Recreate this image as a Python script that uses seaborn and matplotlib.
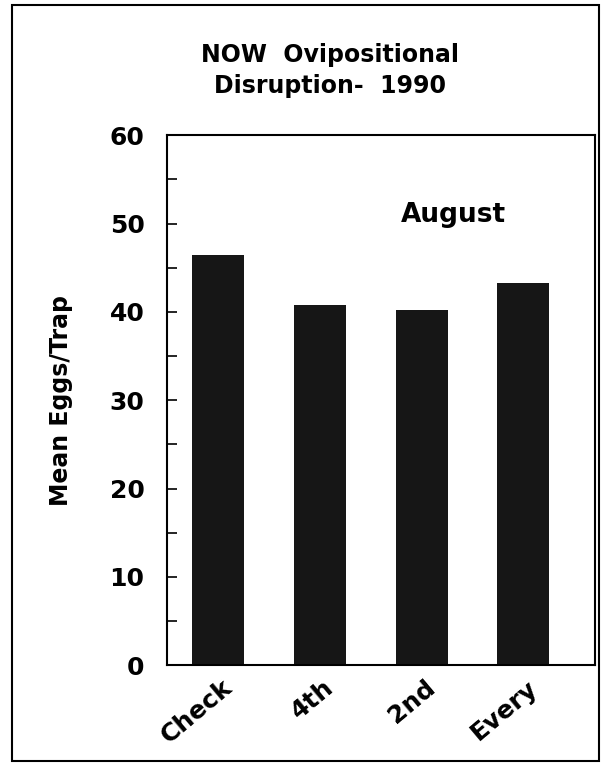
import numpy as np
import pandas as pd
import matplotlib
matplotlib.use("Agg")
import matplotlib.pyplot as plt
import matplotlib.transforms as mtransforms
import seaborn as sns
from matplotlib.patches import Rectangle
from matplotlib.ticker import MultipleLocator

treatments = ["Check", "4th", "2nd", "Every"]
mean_eggs = [46.4, 40.8, 40.2, 43.3]

df = pd.DataFrame({"treatment": treatments, "eggs": mean_eggs})

sns.set_style("ticks")
plt.rcParams["font.family"] = ["DejaVu Sans"]
plt.rcParams["font.weight"] = "bold"
for k in ["text.color", "axes.labelcolor", "xtick.color", "ytick.color", "axes.edgecolor"]:
    plt.rcParams[k] = "black"

fig = plt.figure(figsize=(6.02, 7.69), dpi=100)
ax = fig.add_axes([0.277, 0.135, 0.711, 0.689])

sns.barplot(data=df, x="treatment", y="eggs", color="#161616", width=0.51,
            saturation=1, ax=ax)
for p in ax.patches:
    p.set_edgecolor("none")

ax.set_xlim(-0.5, 3.7)
ax.set_ylim(0, 60)
ax.yaxis.set_major_locator(MultipleLocator(10))
ax.yaxis.set_minor_locator(MultipleLocator(5))
ax.tick_params(axis="y", which="both", direction="in", length=7, width=1.2,
               labelsize=18, pad=16)
ax.tick_params(axis="x", length=0, labelsize=18, pad=14)
offset = mtransforms.ScaledTranslation(8 / 72, 0, fig.dpi_scale_trans)
for lbl in ax.get_xticklabels():
    lbl.set_rotation(40)
    lbl.set_ha("right")
    lbl.set_va("center")
    lbl.set_rotation_mode("anchor")
    lbl.set_fontweight("bold")
    lbl.set_transform(lbl.get_transform() + offset)
for lbl in ax.get_yticklabels():
    lbl.set_fontweight("bold")
for s in ax.spines.values():
    s.set_visible(True)
    s.set_linewidth(1.5)

ax.set_xlabel("")
ax.set_ylabel("Mean Eggs/Trap", fontsize=17, fontweight="bold", labelpad=26)
ax.text(2.31, 51, "August", fontsize=19, fontweight="bold", ha="center", va="center")

fig.text(0.548, 0.908, "NOW  Ovipositional\nDisruption-  1990", ha="center", va="center",
         fontsize=17, fontweight="bold", linespacing=1.35)

fig.patches.append(Rectangle((0.02, 0.01), 0.975, 0.983, transform=fig.transFigure,
                             fill=False, edgecolor="black", linewidth=1.5))

fig.savefig("out.png", dpi=100)
